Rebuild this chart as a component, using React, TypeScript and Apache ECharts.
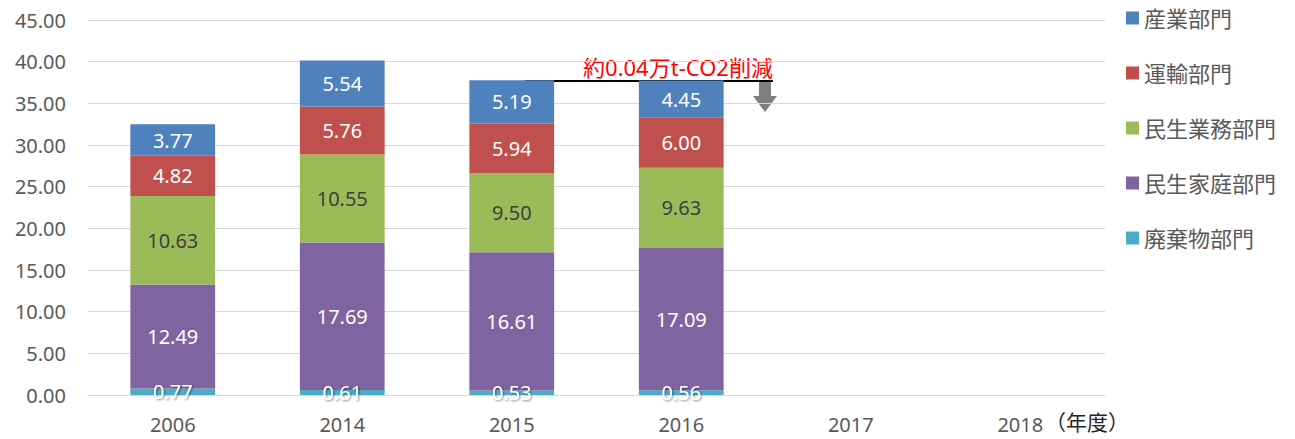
import React, { useEffect, useRef } from "react";
import * as echarts from "echarts";

const categories = ["2006", "2014", "2015", "2016", "2017", "2018"];
const waste = [0.77, 0.61, 0.53, 0.56, null, null];
const household = [12.49, 17.69, 16.61, 17.09, null, null];
const business = [10.63, 10.55, 9.5, 9.63, null, null];
const transport = [4.82, 5.76, 5.94, 6.0, null, null];
const industry = [3.77, 5.54, 5.19, 4.45, null, null];
const seriesNames = ["廃棄物部門", "民生家庭部門", "民生業務部門", "運輸部門", "産業部門"];
const legendOrder = ["産業部門", "運輸部門", "民生業務部門", "民生家庭部門", "廃棄物部門"];
const annotationText = "約0.04万t-CO2削減";

const FONT = "'Noto Sans', 'Noto Sans CJK JP', sans-serif";

export default function App() {
  const ref = useRef<HTMLDivElement>(null);
  useEffect(() => {
    document.body.style.margin = "0";
    const chart = echarts.init(ref.current!, null, { renderer: "svg" });
    const mk = (name: string, data: any[], color: string, labelColor: string, shadow = false) => ({
      name,
      type: "bar",
      stack: "total",
      data,
      barWidth: "50%",
      itemStyle: { color },
      label: {
        show: true,
        position: "inside",
        color: labelColor,
        fontSize: 20,
        fontFamily: FONT,
        formatter: (p: any) => (p.value == null ? "" : Number(p.value).toFixed(2)),
        ...(shadow ? { textShadowColor: "rgba(0,0,0,0.5)", textShadowBlur: 2, textShadowOffsetX: 1, textShadowOffsetY: 1 } : {}),
      },
    });
    chart.setOption({
      animation: false,
      textStyle: { fontFamily: FONT },
      grid: { left: 88, right: 190, top: 20, bottom: 44 },
      legend: {
        orient: "vertical",
        left: 1121,
        top: -2,
        itemWidth: 13,
        itemHeight: 13,
        itemGap: 25,
        icon: "rect",
        data: legendOrder,
        textStyle: { fontSize: 22, color: "#595959", fontFamily: FONT, lineHeight: 30 },
      },
      xAxis: {
        type: "category",
        data: categories,
        axisTick: { show: false },
        axisLine: { lineStyle: { color: "#D9D9D9", width: 1 } },
        axisLabel: { fontSize: 20, color: "#595959", margin: 19, fontFamily: FONT },
      },
      yAxis: {
        type: "value",
        min: 0,
        max: 45,
        interval: 5,
        axisLabel: { fontSize: 20, color: "#595959", margin: 22, formatter: (v: number) => v.toFixed(2), fontFamily: FONT },
        splitLine: { lineStyle: { color: "#D9D9D9" } },
        axisLine: { show: false },
        axisTick: { show: false },
      },
      series: [
        mk(seriesNames[0], waste, "#4BACC6", "#FFFFFF", true),
        mk(seriesNames[1], household, "#8064A2", "#FFFFFF"),
        mk(seriesNames[2], business, "#9BBB59", "#404040"),
        mk(seriesNames[3], transport, "#C0504D", "#FFFFFF"),
        mk(seriesNames[4], industry, "#4F81BD", "#FFFFFF"),
      ],
      graphic: [
        { type: "text", left: 1045, top: 411, style: { text: "（年度）", fontSize: 21, fill: "#262626", fontFamily: FONT } },
        { type: "line", shape: { x1: 525, y1: 81, x2: 773, y2: 81 }, style: { stroke: "#000", lineWidth: 2 } },
        { type: "text", x: 678, y: 67, style: { text: annotationText, fontSize: 22, fill: "#FF0000", align: "center", verticalAlign: "middle", fontFamily: FONT } },
        { type: "rect", shape: { x: 759, y: 82, width: 12, height: 15 }, style: { fill: "#7F7F7F" } },
        { type: "polygon", shape: { points: [[753, 96], [777, 96], [765, 112]] }, style: { fill: "#7F7F7F" } },
      ],
    });
    return () => chart.dispose();
  }, []);
  return <div ref={ref} style={{ width: 1295, height: 439 }} />;
}
